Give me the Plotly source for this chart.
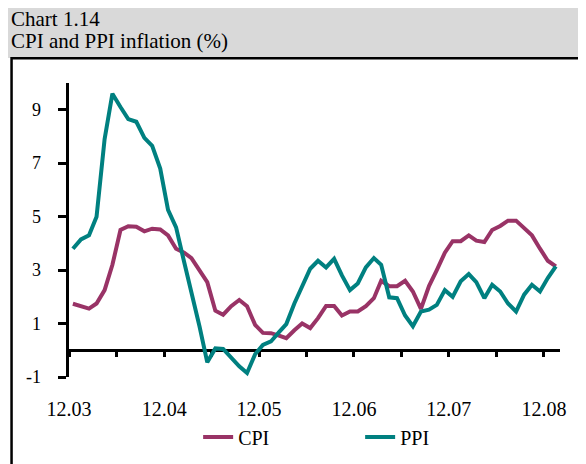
import pandas as pd
import plotly.graph_objects as go

# monthly, 12.2003 - 01.2009 (y/y, %)
months = pd.date_range("2003-12-01", periods=62, freq="MS") + pd.Timedelta(days=15)

cpi = [1.74, 1.65, 1.56, 1.75, 2.25, 3.2, 4.5, 4.64, 4.62, 4.45, 4.55, 4.52,
       4.3, 3.8, 3.65, 3.45, 3.0, 2.55, 1.48, 1.33, 1.65, 1.88, 1.65, 0.95,
       0.65, 0.64, 0.55, 0.45, 0.75, 1.0, 0.83, 1.2, 1.66, 1.66, 1.3, 1.45,
       1.45, 1.65, 1.95, 2.6, 2.4, 2.4, 2.6, 2.2, 1.55, 2.4, 3.0, 3.65,
       4.08, 4.08, 4.3, 4.1, 4.05, 4.5, 4.65, 4.85, 4.85, 4.58, 4.3, 3.8,
       3.35, 3.14]

ppi = [3.8, 4.15, 4.3, 5.0, 7.9, 9.6, 9.1, 8.65, 8.55, 7.95, 7.65, 6.8,
       5.25, 4.6, 3.3, 2.2, 0.9, -0.45, 0.07, 0.05, -0.3, -0.6, -0.85, -0.15,
       0.2, 0.33, 0.68, 0.98, 1.75, 2.4, 3.05, 3.35, 3.1, 3.42, 2.8, 2.25,
       2.5, 3.1, 3.45, 3.2, 1.98, 1.95, 1.3, 0.9, 1.45, 1.52, 1.7, 2.25,
       2.0, 2.58, 2.85, 2.55, 1.95, 2.45, 2.2, 1.75, 1.45, 2.08, 2.45, 2.2,
       2.7, 3.14]

tick_dates = pd.date_range("2003-12-01", "2008-12-01", freq="6MS")
tick_text = ["12.03", "", "12.04", "", "12.05", "", "12.06", "", "12.07", "", "12.08"]
y_ticks = [-1, 1, 3, 5, 7, 9]
y_text = ["-1", "1", "3", "5", "7", "9"]

FONT = "Liberation Serif"
PAD = "\u00a0\u00a0\u00a0"   # push y labels away from the ticks

fig = go.Figure()
fig.add_trace(go.Scatter(x=months, y=cpi, name="CPI", mode="lines",
                         line=dict(color="#993366", width=4)))
fig.add_trace(go.Scatter(x=months, y=ppi, name="PPI", mode="lines",
                         line=dict(color="#008080", width=4)))

# page body has an 8px margin, so the figure is 578x456 and offsets are -8
fig.update_layout(
    width=578, height=456,
    margin=dict(l=61, r=26, t=75, b=87, autoexpand=False),
    paper_bgcolor="white", plot_bgcolor="white",
    font=dict(family=FONT, color="black", size=18),
    legend=dict(orientation="h", x=0.263, y=-0.204, xanchor="left", yanchor="middle",
                entrywidth=117, entrywidthmode="pixels",
                font=dict(size=20, family=FONT, color="black"), bgcolor="rgba(0,0,0,0)"),
    xaxis=dict(range=["2003-12-01", "2009-02-01"], anchor="free", position=1 / 11,
               tickvals=tick_dates, ticktext=tick_text, ticks="outside",
               ticklen=5, tickwidth=3, tickcolor="black",
               showline=True, linewidth=3, linecolor="black",
               showgrid=False, zeroline=False, layer="below traces", automargin=False,
               ticklabelstandoff=35, tickfont=dict(size=20, family=FONT, color="black")),
    yaxis=dict(range=[-1, 10], tickvals=y_ticks, ticktext=[t + PAD for t in y_text],
               ticks="outside", ticklen=8, tickwidth=3, tickcolor="black",
               showline=True, linewidth=3, linecolor="black",
               showgrid=False, zeroline=False, automargin=False,
               tickfont=dict(size=18, family=FONT, color="black")),
    shapes=[
        dict(type="rect", xref="paper", yref="paper", x0=-0.15, x1=1.08,
             y0=1.085, y1=1.3, fillcolor="#d9d9d9", line=dict(width=0), layer="below"),
        dict(type="rect", xref="paper", yref="paper", x0=-0.117, x1=1.2,
             y0=-0.5, y1=1.084, line=dict(color="black", width=2.5)),
    ],
    annotations=[
        dict(text="Chart 1.14", xref="paper", yref="paper", x=-0.122, y=1.218,
             xanchor="left", yanchor="middle", showarrow=False,
             font=dict(size=21, family=FONT, color="black")),
        dict(text="CPI and PPI inflation (%)", xref="paper", yref="paper", x=-0.122,
             y=1.143, xanchor="left", yanchor="middle", showarrow=False,
             font=dict(size=21, family=FONT, color="black")),
    ],
)

fig.write_html("out.html")
